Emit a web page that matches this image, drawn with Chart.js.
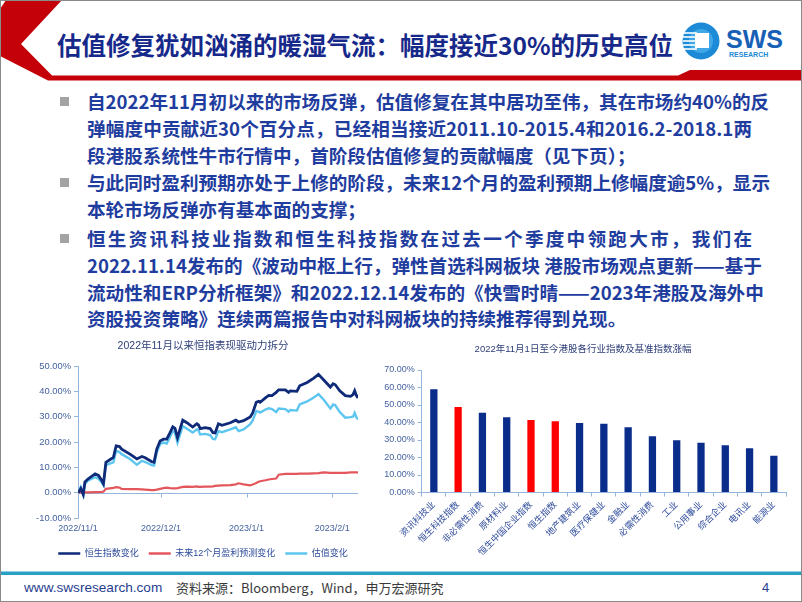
<!DOCTYPE html>
<html>
<head>
<meta charset="utf-8">
<script src="https://cdn.jsdelivr.net/npm/chart.js@4.4.1/dist/chart.umd.min.js"></script>
<style>
  body { margin: 0; background: #fff; }
  #slide { position: relative; width: 802px; height: 602px; overflow: hidden; background: #fff;
           font-family: 'Noto Sans CJK SC', 'Liberation Sans', sans-serif; }
  #frame { position: absolute; left: 0; top: 0; width: 800px; height: 600px; border: 1px solid #8a8a8a; pointer-events: none; }
  svg.deco { position: absolute; left: 0; top: 0; }
  .title { position: absolute; left: 57px; top: 29px; font-size: 24.5px; line-height: 32px; font-weight: 700;
           color: #16298a; white-space: nowrap; }
  .ln { position: absolute; left: 87px; width: 665px; height: 27px; line-height: 27px; font-size: 18.6px;
        font-weight: 700; color: #1f3d9e; white-space: nowrap; text-align: justify; text-align-last: justify; }
  .ln.last { text-align-last: left; }
  .bullet { position: absolute; left: 60px; width: 9px; height: 9px; background: #a3a3a3; }
  canvas { position: absolute; }
  .foot { position: absolute; top: 579px; line-height: 18px; white-space: nowrap; }
</style>
</head>
<body>
<div id="slide">
  <svg class="deco" width="802" height="602">
    <polygon points="6,0 62,0 21,44 52,75.5 678,75.5 690,70 802,70 802,80.5 48,80.5 0,56 0,9" fill="#c40008"/>
    <!-- logo -->
    <circle cx="701" cy="41" r="18.5" fill="#1c8ad6"/>
    <circle cx="701" cy="41" r="12" fill="#41a8e8"/>
    <g stroke="#ffffff" stroke-width="1.6">
      <line x1="684" y1="33" x2="697" y2="33"/>
      <line x1="683" y1="37" x2="697" y2="37"/>
      <line x1="683" y1="41" x2="697" y2="41"/>
      <line x1="683" y1="45" x2="697" y2="45"/>
      <line x1="684" y1="49" x2="697" y2="49"/>
    </g>
    <rect x="695" y="33" width="14" height="15" fill="#ffffff"/>
    <text x="726" y="48" font-family="Liberation Sans, sans-serif" font-weight="700" font-size="25" fill="#1760b6">SWS</text>
    <text x="729" y="57" font-family="Liberation Sans, sans-serif" font-weight="700" font-size="7" fill="#1c8ad6">RESEARCH</text>
    <!-- footer rule -->
    <rect x="0" y="571.5" width="802" height="3.5" fill="#2ba0c7"/>
  </svg>

  <div class="title">估值修复犹如汹涌的暖湿气流：幅度接近30%的历史高位</div>

  <div class="bullet" style="top:97px"></div>
  <div class="ln" style="top:87px">自2022年11月初以来的市场反弹，估值修复在其中居功至伟，其在市场约40%的反</div>
  <div class="ln" style="top:114px">弹幅度中贡献近30个百分点，已经相当接近2011.10-2015.4和2016.2-2018.1两</div>
  <div class="ln last" style="top:141px">段港股系统性牛市行情中，首阶段估值修复的贡献幅度（见下页）；</div>

  <div class="bullet" style="top:178px"></div>
  <div class="ln" style="top:168px">与此同时盈利预期亦处于上修的阶段，未来12个月的盈利预期上修幅度逾5%，显示</div>
  <div class="ln last" style="top:195px">本轮市场反弹亦有基本面的支撑；</div>

  <div class="bullet" style="top:234px"></div>
  <div class="ln" style="top:224px">恒生资讯科技业指数和恒生科技指数在过去一个季度中领跑大市，我们在</div>
  <div class="ln" style="top:251px">2022.11.14发布的《波动中枢上行，弹性首选科网板块 港股市场观点更新——基于</div>
  <div class="ln" style="top:278px">流动性和ERP分析框架》和2022.12.14发布的《快雪时晴——2023年港股及海外中</div>
  <div class="ln last" style="top:304px">资股投资策略》连续两篇报告中对科网板块的持续推荐得到兑现。</div>

  <canvas id="lineChart" width="366" height="236" style="left:20px; top:332px"></canvas>
  <canvas id="barChart" width="420" height="236" style="left:380px; top:332px"></canvas>

  <div class="foot" style="left:24px; font-family:'Liberation Sans',sans-serif; font-size:13.6px; color:#26408f">www.swsresearch.com</div>
  <div class="foot" style="left:176px; font-size:13px; color:#3a3a3a">资料来源：Bloomberg，Wind，申万宏源研究</div>
  <div class="foot" style="left:762px; font-family:'Liberation Sans',sans-serif; font-size:13px; color:#26408f">4</div>
  <div id="frame"></div>
</div>

<script>
// 左图：2022年11月以来恒指表现驱动力拆分（横轴 = 距 2022/11/1 的天数）
const dayOffsets = [0.1, 1.0, 1.9, 2.5, 3.7, 6.2, 7.4, 8.6, 9.2, 10.1, 12.2, 12.8, 13.8, 15.0, 15.8, 18.8,
  21.3, 23.1, 24.3, 26.7, 27.5, 28.5, 29.7, 30.9, 32.1, 33.3, 34.3, 35.1, 36.0, 37.9, 39.4, 41.5,
  43.0, 43.6, 44.2, 46.0, 47.8, 48.8, 49.6, 50.8, 52.1, 55.1, 57.1, 58.1, 59.9, 62.3, 63.2, 64.5,
  65.3, 65.9, 67.8, 69.0, 70.2, 71.7, 72.6, 75.0, 76.2, 76.8, 79.2, 80.2, 82.9, 85.3, 87.0, 88.9,
  91.3, 92.3, 93.1, 94.7, 96.7, 98.6, 99.5, 100.1, 100.7, 101.3];
const hsiChange = [0, 1.6, -0.7, 4.2, 5.5, 7.4, 6.8, 4.8, 3.5, 12.0, 13.5, 13.9, 18.5, 18.2, 17.2, 15.2,
  13.3, 14.3, 13.8, 12.2, 12.0, 17.2, 20.4, 21.1, 21.1, 23.7, 26.0, 25.4, 21.7, 28.6, 27.6, 25.9,
  27.2, 26.7, 25.3, 25.7, 25.3, 23.7, 23.6, 27.2, 26.6, 27.6, 28.6, 27.9, 28.4, 29.9, 31.5, 35.7,
  36.1, 35.7, 37.4, 38.4, 38.3, 39.6, 40.6, 40.6, 39.6, 40.2, 40.0, 42.2, 43.5, 45.2, 46.7, 44.5,
  41.7, 43.0, 42.6, 40.2, 38.3, 38.0, 38.7, 40.2, 38.4, 37.4];
const epsChange = [0, 0.2, 0.1, 0.1, 0.1, 0.2, 0.2, 0.3, 0.4, 1.5, 1.8, 1.9, 2.2, 2.0, 1.5, 1.4,
  1.4, 1.3, 1.2, 1.0, 1.0, 1.2, 1.5, 1.8, 2.0, 1.8, 1.7, 1.7, 1.8, 2.3, 2.4, 2.3,
  2.5, 2.3, 2.3, 2.4, 2.4, 2.5, 2.7, 2.8, 2.9, 3.0, 3.3, 3.7, 3.3, 2.9, 3.2, 3.8,
  4.3, 4.5, 4.9, 5.2, 5.4, 5.6, 7.1, 7.4, 7.4, 7.4, 7.4, 7.5, 7.5, 7.6, 7.7, 8.0,
  7.8, 7.8, 7.8, 7.8, 7.8, 8.0, 8.0, 8.0, 8.0, 8.0];
const valuationChange = [0, 2.2, -0.8, 3.5, 4.8, 6.1, 5.5, 4.0, 3.0, 10.9, 11.8, 12.0, 16.5, 16.0, 15.2, 13.3,
  11.0, 12.6, 12.1, 10.9, 10.7, 15.9, 19.1, 19.8, 19.4, 22.0, 24.3, 23.7, 19.8, 26.3, 25.2, 23.7,
  25.0, 24.5, 23.0, 23.2, 22.7, 21.2, 21.1, 24.3, 23.9, 25.0, 25.8, 24.3, 25.0, 27.0, 28.5, 32.2,
  32.0, 31.6, 32.8, 33.3, 33.0, 31.8, 33.2, 33.0, 32.0, 32.6, 32.4, 34.8, 36.0, 37.6, 38.9, 36.7,
  33.2, 34.8, 34.5, 31.8, 29.6, 29.8, 30.0, 31.5, 29.8, 28.9];
const dateTicks = [0, 30, 61, 92];
const dateTickLabels = ['2022/11/1', '2022/12/1', '2023/1/1', '2023/2/1'];

// 右图：2022年11月1日至今港股各行业指数及基准指数涨幅（%）
const sectors = ['资讯科技业', '恒生科技指数', '非必需性消费', '原材料业', '恒生中国企业指数', '恒生指数',
  '地产建筑业', '医疗保健业', '金融业', '必需性消费', '工业', '公用事业', '综合企业', '电讯业', '能源业'];
const sectorGains = [59.0, 48.9, 45.6, 43.0, 41.4, 40.7, 39.7, 39.3, 37.3, 32.1, 29.8, 28.5, 27.0, 25.3, 21.0];
const benchmarks = ['恒生科技指数', '恒生中国企业指数', '恒生指数'];

const FONT = "'Liberation Sans', 'Noto Sans CJK SC', sans-serif";
const axisColor = '#94b6de';
const tickColor = '#45639f';
const pct = v => Number(v).toFixed(2) + '%';

const zeroAxis = {
  id: 'zeroAxis',
  beforeDatasetsDraw(chart) {
    const { ctx, chartArea, scales: { x, y } } = chart;
    const y0 = Math.round(y.getPixelForValue(0)) + 0.5;
    ctx.save();
    ctx.strokeStyle = axisColor;
    ctx.lineWidth = 1;
    ctx.beginPath();
    ctx.moveTo(chartArea.left, y0);
    ctx.lineTo(chartArea.right, y0);
    dateTicks.forEach(d => {
      const px = Math.round(x.getPixelForValue(d)) + 0.5;
      ctx.moveTo(px, y0);
      ctx.lineTo(px, y0 + 4);
    });
    ctx.stroke();
    ctx.restore();
  }
};

const toPoints = vals => vals.map((v, i) => ({ x: dayOffsets[i], y: v }));
const lineSet = (label, vals, color, width) => ({
  label, data: toPoints(vals), borderColor: color, backgroundColor: color,
  borderWidth: width, pointRadius: 0, tension: 0
});

new Chart(document.getElementById('lineChart'), {
  type: 'line',
  data: {
    datasets: [
      lineSet('恒生指数变化', hsiChange, '#0e2a78', 2.8),
      lineSet('未来12个月盈利预测变化', epsChange, '#e3565c', 2.2),
      lineSet('估值变化', valuationChange, '#5cc6f1', 2.4)
    ]
  },
  options: {
    responsive: false,
    animation: false,
    layout: { padding: { left: 0, right: 0, top: 0, bottom: 0 } },
    plugins: {
      title: {
        display: true, text: '2022年11月以来恒指表现驱动力拆分', color: '#2d3e78',
        font: { family: FONT, size: 10.5, weight: 'normal' }, padding: { top: 7.5, bottom: 13.9 }
      },
      legend: {
        position: 'bottom',
        labels: {
          boxWidth: 22, boxHeight: 2.5, padding: 10, color: '#2f4c9c',
          font: { family: FONT, size: 9 },
          generateLabels: chart => Chart.defaults.plugins.legend.labels.generateLabels(chart)
            .map(l => ({ ...l, fillStyle: l.strokeStyle, lineWidth: 0 }))
        }
      },
      tooltip: { enabled: false }
    },
    scales: {
      x: {
        type: 'linear', min: 0, max: 101.3,
        afterBuildTicks: s => { s.ticks = dateTicks.map(v => ({ value: v })); },
        afterFit: s => { s.height = 21; },
        ticks: { callback: (v, i) => dateTickLabels[i], color: tickColor, maxRotation: 0, autoSkip: false,
                 padding: 5, font: { family: FONT, size: 9 } },
        grid: { display: false, drawTicks: false },
        border: { display: false }
      },
      y: {
        min: -10, max: 50,
        afterFit: s => { s.width = 58; },
        ticks: { stepSize: 10, callback: pct, color: tickColor, font: { family: FONT, size: 9.4 } },
        grid: { drawOnChartArea: false, color: axisColor, tickLength: 4 },
        border: { color: axisColor }
      },
      // empty spacer on the right so the title and legend sit centred like the original
      spacer: {
        position: 'right', min: 0, max: 1,
        afterFit: s => { s.width = 28; },
        ticks: { display: false },
        grid: { display: false, drawTicks: false },
        border: { display: false }
      }
    }
  },
  plugins: [zeroAxis]
});

new Chart(document.getElementById('barChart'), {
  type: 'bar',
  data: {
    labels: sectors,
    datasets: [{
      data: sectorGains,
      backgroundColor: sectors.map(s => benchmarks.includes(s) ? '#ff0000' : '#0a2d8c'),
      barPercentage: 0.3, categoryPercentage: 1
    }]
  },
  options: {
    responsive: false,
    animation: false,
    layout: { padding: { left: 0, right: 14, top: 0, bottom: 0 } },
    plugins: {
      legend: { display: false },
      tooltip: { enabled: false },
      title: {
        display: true, text: '2022年11月1日至今港股各行业指数及基准指数涨幅', color: '#2d3e78',
        font: { family: FONT, size: 9.5, weight: 'normal' }, padding: { top: 11.3, bottom: 15.3 }
      }
    },
    scales: {
      x: {
        afterFit: s => { s.height = 75.5; },
        ticks: { minRotation: 45, maxRotation: 45, autoSkip: false, color: '#2f4c9c',
                 font: { family: FONT, size: 9 } },
        grid: { drawOnChartArea: false, offset: true, color: axisColor, tickLength: 4 },
        border: { color: axisColor }
      },
      y: {
        min: 0, max: 70,
        afterFit: s => { s.width = 41.7; },
        ticks: { stepSize: 10, callback: pct, color: tickColor, font: { family: FONT, size: 9 } },
        grid: { drawOnChartArea: false, color: axisColor, tickLength: 4 },
        border: { color: axisColor }
      }
    }
  }
});
</script>
</body>
</html>
